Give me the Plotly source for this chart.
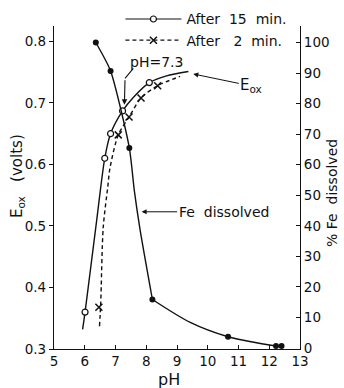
import plotly.graph_objects as go

# ---- data ----
# Fe dissolved (% , right axis) - measured points
fe_ph = [6.36, 6.84, 7.45, 8.20, 10.66, 12.22, 12.40]
fe_pct = [100, 90.7, 65.5, 15.9, 3.7, 0.7, 0.7]
# Fe dissolved curve
fe_curve_a_ph = [6.36, 6.84, 7.45, 7.61, 7.80, 8.20]
fe_curve_a_pct = [100, 90.7, 65.5, 51.7, 38.7, 15.9]
fe_curve_b_ph = [8.20, 9.43, 10.66, 11.50, 12.22, 12.40]
fe_curve_b_pct = [15.9, 8.4, 3.7, 1.9, 0.7, 0.7]

# E_ox after 15 min (volts, left axis)
e15_ph = [6.01, 6.65, 6.84, 7.23, 8.10]
e15_v = [0.360, 0.610, 0.650, 0.687, 0.733]
e15_curve_ph = [5.93, 6.01, 6.39, 6.65, 6.84, 7.23, 7.60, 8.10, 8.66, 9.37]
e15_curve_v = [0.332, 0.360, 0.510, 0.610, 0.650, 0.687, 0.710, 0.733, 0.744, 0.751]

# E_ox after 2 min
e2_ph = [6.46, 7.09, 7.44, 7.83, 8.37]
e2_v = [0.368, 0.648, 0.677, 0.708, 0.728]
e2_curve_ph = [6.48, 6.52, 6.60, 6.75, 6.82, 7.09, 7.44, 7.83, 8.37, 9.10]
e2_curve_v = [0.337, 0.375, 0.497, 0.564, 0.594, 0.648, 0.677, 0.708, 0.728, 0.743]

x_ticks = [5, 6, 7, 8, 9, 10, 11, 12, 13]
y_ticks = [0.3, 0.4, 0.5, 0.6, 0.7, 0.8]
y2_ticks = [0, 10, 20, 30, 40, 50, 60, 70, 80, 90, 100]

FONT = "DejaVu Sans"
BLACK = "#111111"
LW = 1.4

fig = go.Figure()

# lines
fig.add_trace(go.Scatter(x=e15_curve_ph, y=e15_curve_v, mode="lines",
                         line=dict(color=BLACK, width=LW, shape="spline", smoothing=0.8),
                         showlegend=False, hoverinfo="skip"))
fig.add_trace(go.Scatter(x=e2_curve_ph, y=e2_curve_v, mode="lines",
                         line=dict(color=BLACK, width=LW, dash="4px,3px", shape="spline", smoothing=0.8),
                         showlegend=False, hoverinfo="skip"))
fig.add_trace(go.Scatter(x=fe_curve_a_ph, y=fe_curve_a_pct, mode="lines", yaxis="y2",
                         line=dict(color=BLACK, width=LW, shape="spline", smoothing=0.6),
                         showlegend=False, hoverinfo="skip"))
fig.add_trace(go.Scatter(x=fe_curve_b_ph, y=fe_curve_b_pct, mode="lines", yaxis="y2",
                         line=dict(color=BLACK, width=LW, shape="spline", smoothing=0.8),
                         showlegend=False, hoverinfo="skip"))

# markers
fig.add_trace(go.Scatter(x=e15_ph, y=e15_v, mode="markers",
                         marker=dict(symbol="circle", size=6, color="white",
                                     line=dict(color=BLACK, width=1.2)),
                         showlegend=False))
fig.add_trace(go.Scatter(x=e2_ph, y=e2_v, mode="markers",
                         marker=dict(symbol="x-thin", size=7, color=BLACK,
                                     line=dict(color=BLACK, width=1.5)),
                         showlegend=False))
fig.add_trace(go.Scatter(x=fe_ph, y=fe_pct, mode="markers", yaxis="y2",
                         marker=dict(symbol="circle", size=6, color=BLACK),
                         showlegend=False))

# legend entries
fig.add_trace(go.Scatter(x=[None], y=[None], mode="lines+markers", name="After\u00a0\u00a015\u00a0\u00a0min.",
                         legendgroup="a",
                         line=dict(color=BLACK, width=1.2),
                         marker=dict(symbol="circle", size=6, color="white",
                                     line=dict(color=BLACK, width=1.2))))
fig.add_trace(go.Scatter(x=[None], y=[None], mode="lines+markers", name="After\u00a0\u00a0\u00a02\u00a0\u00a0min.",
                         legendgroup="b",
                         line=dict(color=BLACK, width=1.2, dash="4px,3px"),
                         marker=dict(symbol="x-thin", size=7, color=BLACK,
                                     line=dict(color=BLACK, width=1.5))))

axis_common = dict(showgrid=False, zeroline=False, showline=True, linecolor=BLACK,
                   linewidth=1.3, tickcolor=BLACK, ticklen=4, tickwidth=1.2,
                   automargin=False,
                   tickfont=dict(family=FONT, size=13.5, color=BLACK))

fig.update_layout(
    template="none",
    width=344, height=388,
    margin=dict(l=54, r=44, t=26, b=39, autoexpand=False),
    paper_bgcolor="white", plot_bgcolor="white",
    font=dict(family=FONT, color=BLACK),
    xaxis=dict(range=[5, 13], tickvals=x_ticks, ticks="inside", **axis_common),
    yaxis=dict(range=[0.3, 0.825], tickvals=y_ticks,
               ticktext=[f"{v:.1f}" for v in y_ticks], ticks="outside", **axis_common),
    yaxis2=dict(range=[-0.3, 105.4], tickvals=y2_ticks, ticks="inside", side="right",
                overlaying="y", **axis_common),
    legend=dict(x=0.27, y=1.07, xanchor="left", yanchor="top",
                bgcolor="rgba(0,0,0,0)", itemwidth=56, tracegroupgap=0,
                traceorder="grouped",
                font=dict(family=FONT, size=14, color=BLACK)),
    showlegend=True,
)

ann_font = dict(family=FONT, size=14, color=BLACK)
fig.add_annotation(x=9.53, y=0.747, xref="x", yref="y", text="E<sub>ox</sub>",
                   showarrow=True, arrowhead=2, arrowsize=1, arrowwidth=1,
                   arrowcolor=BLACK, ax=58, ay=12, font=dict(family=FONT, size=15, color=BLACK))
fig.add_annotation(x=7.85, y=44.6, xref="x", yref="y2", text="Fe\u00a0 dissolved",
                   showarrow=True, arrowhead=2, arrowsize=1, arrowwidth=1,
                   arrowcolor=BLACK, ax=82, ay=0, font=ann_font)
fig.add_annotation(x=8.32, y=0.767, xref="x", yref="y", text="pH=7.3",
                   showarrow=False, font=ann_font)
fig.add_shape(type="line", xref="x", yref="y", x0=7.58, y0=0.756, x1=7.31, y1=0.740,
              line=dict(color=BLACK, width=1.1))
fig.add_annotation(x=7.29, y=0.697, xref="x", yref="y", text=" ",
                   axref="x", ayref="y", ax=7.31, ay=0.740,
                   showarrow=True, arrowhead=2, arrowsize=1, arrowwidth=1.1,
                   arrowcolor=BLACK, font=dict(size=1))

# axis titles
fig.add_annotation(x=(17 - 54) / 246, y=(349 - 176) / 323, xref="paper", yref="paper",
                   xanchor="center", yanchor="middle",
                   text="E<sub>ox</sub>\u00a0\u00a0\u00a0(volts)", textangle=-90, showarrow=False,
                   font=dict(family=FONT, size=15, color=BLACK))
fig.add_annotation(x=(332 - 54) / 246, y=(349 - 193) / 323, xref="paper", yref="paper",
                   xanchor="center", yanchor="middle",
                   text="%\u00a0Fe\u00a0\u00a0dissolved", textangle=-90, showarrow=False,
                   font=dict(family=FONT, size=14, color=BLACK))
fig.add_annotation(x=(169 - 54) / 246, y=(349 - 379) / 323, xref="paper", yref="paper",
                   xanchor="center", yanchor="middle",
                   text="pH", showarrow=False,
                   font=dict(family=FONT, size=16, color=BLACK))

fig.write_html("out.html", config={"displayModeBar": False},
               post_script="document.body.style.margin='0';document.body.style.overflow='hidden';")
